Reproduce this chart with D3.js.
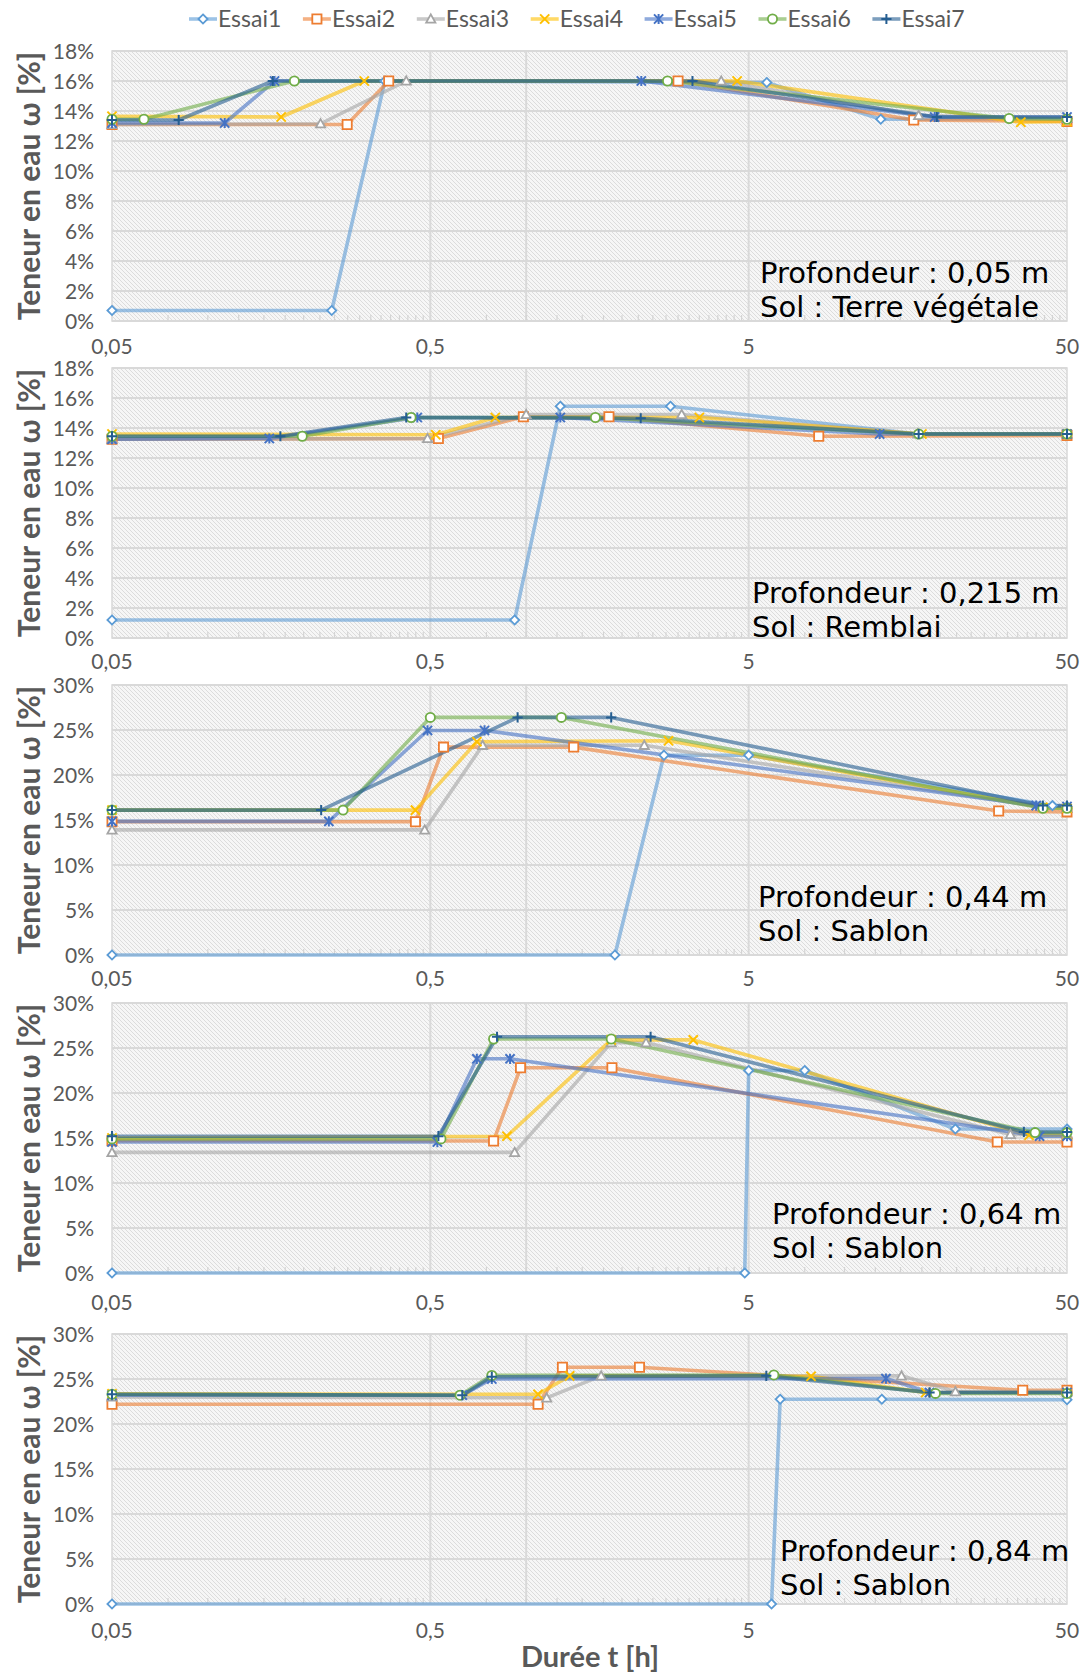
<!DOCTYPE html>
<html><head><meta charset="utf-8">
<script src="https://cdn.jsdelivr.net/npm/d3@7"></script>
<style>body{margin:0;background:#fff}</style>
</head><body>
<svg id="chart" width="1091" height="1674"></svg>
<script>
// ---------- data ----------
const seriesNames = ["Essai1","Essai2","Essai3","Essai4","Essai5","Essai6","Essai7"];
const seriesColors = ["#5B9BD5","#ED7D31","#A5A5A5","#FFC000","#4472C4","#70AD47","#255E91"];
const seriesMarkers = ["diamond","square","triangle","x","star","circle","plus"];
const xTickValues = [0.05, 0.5, 5, 50];
const xTickLabels = ["0,05", "0,5", "5", "50"];
const yTicksLow = [0, 2, 4, 6, 8, 10, 12, 14, 16, 18];
const yTicksHigh = [0, 5, 10, 15, 20, 25, 30];
const depthLabels = ["Profondeur : 0,05 m", "Profondeur : 0,215 m", "Profondeur : 0,44 m", "Profondeur : 0,64 m", "Profondeur : 0,84 m"];
const soilLabels = ["Sol : Terre végétale", "Sol : Remblai", "Sol : Sablon", "Sol : Sablon", "Sol : Sablon"];
const yAxisTitle = "Teneur en eau ω [%]";
const xAxisTitle = "Durée t [h]";

// [time h, water content %] per Essai, one array per depth
const depth005 = [
  [[0.05,0.7],[0.245,0.7],[0.36,16.0],[5.7,15.9],[13.0,13.45],[50,13.5]],
  [[0.05,13.1],[0.274,13.1],[0.37,16.0],[3.0,16.0],[16.5,13.4],[50,13.3]],
  [[0.05,13.1],[0.226,13.15],[0.42,16.0],[4.1,16.0],[17.1,13.7],[50,13.5]],
  [[0.05,13.65],[0.17,13.6],[0.31,16.0],[4.6,16.0],[35.8,13.25],[50,13.3]],
  [[0.05,13.2],[0.113,13.2],[0.162,16.0],[2.3,16.0],[19.2,13.6],[50,13.6]],
  [[0.05,13.45],[0.063,13.45],[0.187,16.0],[2.78,16.0],[32.9,13.5],[50,13.45]],
  [[0.05,13.4],[0.081,13.4],[0.16,16.0],[3.33,16.0],[19.5,13.6],[50,13.6]]
];
const depth0215 = [
  [[0.05,1.2],[0.92,1.2],[1.28,15.45],[2.84,15.45],[17,13.6],[50,13.6]],
  [[0.05,13.25],[0.53,13.3],[0.98,14.75],[1.82,14.75],[8.3,13.45],[50,13.5]],
  [[0.05,13.25],[0.49,13.3],[1.0,14.9],[3.08,14.9],[17,13.6],[50,13.6]],
  [[0.05,13.6],[0.52,13.55],[0.8,14.7],[3.5,14.7],[17.5,13.6],[50,13.6]],
  [[0.05,13.25],[0.156,13.3],[0.455,14.7],[1.28,14.7],[12.9,13.6],[50,13.6]],
  [[0.05,13.45],[0.198,13.45],[0.435,14.7],[1.65,14.7],[17.1,13.6],[50,13.6]],
  [[0.05,13.45],[0.169,13.45],[0.42,14.7],[2.29,14.65],[17.1,13.6],[50,13.6]]
];
const depth044 = [
  [[0.05,0],[1.9,0],[2.71,22.2],[5.0,22.2],[45,16.6],[50,16.5]],
  [[0.05,14.8],[0.449,14.8],[0.55,23.1],[1.41,23.1],[30.5,16.0],[50,15.9]],
  [[0.05,13.9],[0.48,13.9],[0.73,23.3],[2.35,23.3],[42,16.4],[50,16.3]],
  [[0.05,16.1],[0.449,16.1],[0.70,23.7],[2.8,23.8],[42,16.4],[50,16.3]],
  [[0.05,14.85],[0.24,14.85],[0.49,24.95],[0.74,24.95],[40,16.6],[50,16.5]],
  [[0.05,16.1],[0.266,16.1],[0.5,26.4],[1.29,26.4],[42,16.3],[50,16.3]],
  [[0.05,16.1],[0.227,16.1],[0.94,26.4],[1.85,26.4],[42,16.6],[50,16.6]]
];
const depth064 = [
  [[0.05,0],[4.86,0],[5.0,22.5],[7.5,22.5],[22.3,16.0],[50,16.0]],
  [[0.05,14.7],[0.79,14.67],[0.96,22.8],[1.86,22.8],[30.2,14.55],[50,14.55]],
  [[0.05,13.4],[0.92,13.4],[1.85,25.6],[2.38,25.6],[33.2,15.4],[50,15.4]],
  [[0.05,15.0],[0.87,15.2],[1.85,25.9],[3.35,25.9],[38,15.3],[50,15.3]],
  [[0.05,14.55],[0.526,14.55],[0.70,23.8],[0.89,23.8],[41,15.2],[50,15.2]],
  [[0.05,14.9],[0.54,14.9],[0.79,26.0],[1.85,26.0],[39.7,15.6],[50,15.6]],
  [[0.05,15.2],[0.53,15.2],[0.81,26.25],[2.46,26.25],[36.6,15.67],[50,15.67]]
];
const depth084 = [
  [[0.05,0],[5.9,0],[6.28,22.75],[13.1,22.75],[50,22.7]],
  [[0.05,22.2],[1.09,22.2],[1.30,26.3],[2.27,26.3],[36.3,23.75],[50,23.75]],
  [[0.05,23.0],[1.16,22.9],[1.72,25.35],[15.1,25.35],[22.3,23.6],[50,23.6]],
  [[0.05,23.35],[1.09,23.3],[1.37,25.35],[7.85,25.3],[18,23.5],[50,23.5]],
  [[0.05,23.2],[0.63,23.2],[0.78,25.0],[13.5,25.05],[18.5,23.5],[50,23.5]],
  [[0.05,23.3],[0.62,23.2],[0.78,25.4],[6.0,25.45],[19.3,23.4],[50,23.4]],
  [[0.05,23.3],[0.63,23.2],[0.78,25.25],[5.68,25.35],[18.5,23.5],[50,23.5]]
];
const panelData = [depth005, depth0215, depth044, depth064, depth084];
const panelYMax = [18, 18, 30, 30, 30];
const panelYTicks = [yTicksLow, yTicksLow, yTicksHigh, yTicksHigh, yTicksHigh];

// ---------- layout ----------
const svg = d3.select("#chart");
const plotLeft = 112, plotRight = 1067, plotH = 270;
const panelTops = [51, 368, 685, 1003, 1334];
const xLabelOffset = [33, 31, 31, 37, 34];
const annoX = [760, 752, 758, 772, 780];
const annoY = [232, 235, 222, 221, 227];
const gray = "#595959";
const uiFont = "Lato, 'Open Sans', 'Liberation Sans', sans-serif";

const defs = svg.append("defs");
const pat = defs.append("pattern").attr("id","hatch").attr("patternUnits","userSpaceOnUse")
  .attr("width",4).attr("height",4);
pat.append("rect").attr("width",4).attr("height",4).attr("fill","#f6f6f6");
pat.append("path").attr("d","M-1,-1 L5,5 M-1,3 L1,5 M3,-1 L5,1").attr("stroke","#d6d6d6").attr("stroke-width",0.8);

const x = d3.scaleLog().domain([0.05, 50]).range([plotLeft, plotRight]);

function drawMarker(g, type, color, px, py) {
  const s = 4.6;
  let p;
  switch (type) {
    case "diamond": p = `M${px},${py-s}L${px+s},${py}L${px},${py+s}L${px-s},${py}Z`; break;
    case "square": p = `M${px-s},${py-s}h${2*s}v${2*s}h${-2*s}Z`; break;
    case "triangle": p = `M${px},${py-s}L${px+s},${py+s*0.8}L${px-s},${py+s*0.8}Z`; break;
    case "x": p = `M${px-s},${py-s}L${px+s},${py+s}M${px+s},${py-s}L${px-s},${py+s}`; break;
    case "star": p = `M${px-s},${py-s}L${px+s},${py+s}M${px+s},${py-s}L${px-s},${py+s}M${px},${py-s-0.5}L${px},${py+s+0.5}`; break;
    case "plus": p = `M${px-s-0.5},${py}L${px+s+0.5},${py}M${px},${py-s-0.5}L${px},${py+s+0.5}`; break;
  }
  if (type === "circle") {
    g.append("circle").attr("cx",px).attr("cy",py).attr("r",s)
      .attr("fill","#fff").attr("stroke",color).attr("stroke-width",1.8);
  } else {
    const open = (type === "x" || type === "star" || type === "plus");
    g.append("path").attr("d",p).attr("fill", open ? "none" : "#fff")
      .attr("stroke",color).attr("stroke-width",open ? 2 : 1.8);
  }
}

panelData.forEach((data, pi) => {
  const top = panelTops[pi], bottom = top + plotH;
  const y = d3.scaleLinear().domain([0, panelYMax[pi]]).range([bottom, top]);
  const g = svg.append("g");

  g.append("rect").attr("x",plotLeft).attr("y",top).attr("width",plotRight-plotLeft).attr("height",plotH)
    .attr("fill","url(#hatch)");

  // horizontal gridlines
  g.selectAll(".hg").data(panelYTicks[pi]).join("line")
    .attr("x1",plotLeft).attr("x2",plotRight).attr("y1",d=>y(d)).attr("y2",d=>y(d))
    .attr("stroke","#d9d9d9").attr("stroke-width",2);
  // vertical gridlines
  g.selectAll(".vg").data([0.5, 1, 5]).join("line")
    .attr("x1",d=>x(d)).attr("x2",d=>x(d)).attr("y1",top).attr("y2",bottom)
    .attr("stroke","#d9d9d9").attr("stroke-width",2);
  // minor ticks
  const minor = [];
  [0.05, 0.5, 5].forEach(b => { for (let k = 1.5; k < 10; k += 0.5) minor.push(b * k); });
  g.selectAll(".mt").data(minor).join("line")
    .attr("x1",d=>x(d)).attr("x2",d=>x(d)).attr("y1",bottom).attr("y2",bottom-6)
    .attr("stroke","#d4d4d4").attr("stroke-width",1.2);
  g.append("rect").attr("x",plotLeft).attr("y",top).attr("width",plotRight-plotLeft).attr("height",plotH)
    .attr("fill","none").attr("stroke","#d9d9d9").attr("stroke-width",1.5);

  // y tick labels
  g.selectAll(".yl").data(panelYTicks[pi]).join("text")
    .attr("x",94).attr("y",d=>y(d)).attr("dy","0.36em").attr("text-anchor","end")
    .attr("font-family",uiFont).attr("font-size",21).attr("fill",gray)
    .text(d=>d+"%");
  // x tick labels
  g.selectAll(".xl").data(xTickValues).join("text")
    .attr("x",d=>x(d)).attr("y",bottom+xLabelOffset[pi]).attr("text-anchor","middle")
    .attr("font-family",uiFont).attr("font-size",21).attr("fill",gray)
    .text((d,i)=>xTickLabels[i]);
  // y axis title
  g.append("text").attr("transform",`translate(40,${(top+bottom)/2}) rotate(-90)`)
    .attr("text-anchor","middle").attr("font-family",uiFont).attr("font-weight","bold")
    .attr("font-size",30).attr("fill",gray).text(yAxisTitle);

  // series
  const line = d3.line().x(d=>x(d[0])).y(d=>y(d[1]));
  data.forEach((ser, si) => {
    g.append("path").attr("d",line(ser)).attr("fill","none")
      .attr("stroke",seriesColors[si]).attr("stroke-opacity",0.6)
      .attr("stroke-width",3.6).attr("stroke-linejoin","round");
  });
  data.forEach((ser, si) => {
    const mg = g.append("g");
    ser.forEach(d => drawMarker(mg, seriesMarkers[si], seriesColors[si], x(d[0]), y(d[1])));
  });

  // annotation
  const at = g.append("text").attr("font-family","'DejaVu Sans', sans-serif").attr("font-size",29).attr("fill","#000");
  at.append("tspan").attr("x",annoX[pi]).attr("y",top+annoY[pi]).text(depthLabels[pi]);
  at.append("tspan").attr("x",annoX[pi]).attr("y",top+annoY[pi]+33.5).text(soilLabels[pi]);
});

// x axis title
svg.append("text").attr("x",590).attr("y",1667).attr("text-anchor","middle")
  .attr("font-family",uiFont).attr("font-weight","bold").attr("font-size",29).attr("fill",gray)
  .text(xAxisTitle);

// legend
const lg = svg.append("g");
seriesNames.forEach((name, i) => {
  const mx = 203 + i * 113.9, ly = 19;
  lg.append("line").attr("x1",mx-14).attr("x2",mx+14).attr("y1",ly).attr("y2",ly)
    .attr("stroke",seriesColors[i]).attr("stroke-opacity",0.6).attr("stroke-width",3.6);
  drawMarker(lg, seriesMarkers[i], seriesColors[i], mx, ly);
  lg.append("text").attr("x",mx+15).attr("y",ly).attr("dy","0.36em")
    .attr("font-family",uiFont).attr("font-size",23).attr("fill",gray).text(name);
});
</script>
</body></html>
